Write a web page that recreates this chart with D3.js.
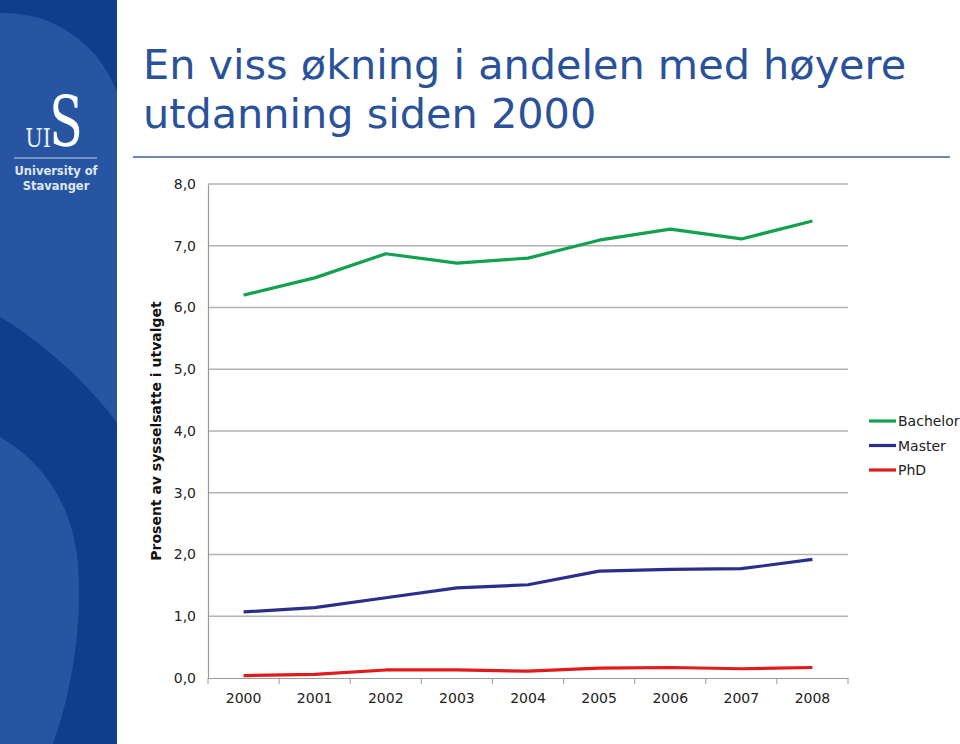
<!DOCTYPE html>
<html>
<head>
<meta charset="utf-8">
<script src="https://cdn.jsdelivr.net/npm/d3@7"></script>
<style>
  body { margin: 0; background: #fff; }
  svg { display: block; }
</style>
</head>
<body>
<div id="chart"></div>
<script>
// data
const years = ['2000', '2001', '2002', '2003', '2004', '2005', '2006', '2007', '2008'];
const bachelor = [6.20, 6.48, 6.87, 6.72, 6.80, 7.09, 7.27, 7.11, 7.40];
const master = [1.07, 1.14, 1.30, 1.46, 1.51, 1.73, 1.76, 1.77, 1.92];
const phd = [0.04, 0.06, 0.13, 0.13, 0.11, 0.16, 0.17, 0.15, 0.17];
const seriesNames = ['Bachelor', 'Master', 'PhD'];
const seriesColors = ['#12a14e', '#2b2f8c', '#e01b1b'];
const yTicks = [0, 1, 2, 3, 4, 5, 6, 7, 8];

var width = 960,
    height = 744;

var svg = d3.select('#chart')
  .append('svg')
    .attr('width', width)
    .attr('height', height);

// left sidebar with the logo
var side = svg.append('g');
side.append('rect')
  .attr('x', 0).attr('y', 0)
  .attr('width', 117).attr('height', height)
  .attr('fill', '#2855a2');
// darker curved bands
side.append('path')
  .attr('d', 'M0,0 L117,0 L117,92 C105,60 80,32 40,18 C25,14 10,13 0,13 Z')
  .attr('fill', '#0f3e8e');
side.append('path')
  .attr('d', 'M0,317 C40,340 90,385 117,423 L117,744 L53,744 C72,690 84,620 77,555 C70,500 40,460 0,437 Z')
  .attr('fill', '#0f3e8e');
// logo
side.append('text')
  .attr('transform', 'translate(66,146) scale(0.7,1)')
  .attr('text-anchor', 'middle')
  .attr('font-family', 'DejaVu Serif, serif')
  .attr('font-size', 70)
  .attr('fill', '#fff')
  .text('S');
side.append('text')
  .attr('transform', 'translate(51,147) scale(0.8,1)')
  .attr('text-anchor', 'end')
  .attr('font-family', 'DejaVu Serif, serif')
  .attr('font-size', 26)
  .attr('fill', '#e8eef8')
  .text('UI');
side.append('line')
  .attr('x1', 14).attr('x2', 97)
  .attr('y1', 158).attr('y2', 158)
  .attr('stroke', '#8fa8d4').attr('stroke-width', 1.5);
side.append('text')
  .attr('x', 56).attr('y', 175)
  .attr('text-anchor', 'middle')
  .attr('font-family', 'Verdana, DejaVu Sans, sans-serif')
  .attr('font-weight', 'bold')
  .attr('font-size', 11.5)
  .attr('fill', '#dfe7f5')
  .text('University of');
side.append('text')
  .attr('x', 56).attr('y', 190)
  .attr('text-anchor', 'middle')
  .attr('font-family', 'Verdana, DejaVu Sans, sans-serif')
  .attr('font-weight', 'bold')
  .attr('font-size', 11.5)
  .attr('fill', '#dfe7f5')
  .text('Stavanger');

// title
var title = svg.append('text')
  .attr('font-family', 'Verdana, DejaVu Sans, sans-serif')
  .attr('font-size', 41.4)
  .attr('fill', '#2a529a');
title.append('tspan').attr('x', 143).attr('y', 79).text('En viss økning i andelen med høyere');
title.append('tspan').attr('x', 143).attr('y', 128).text('utdanning siden 2000');

svg.append('line')
  .attr('x1', 133).attr('x2', 950)
  .attr('y1', 157).attr('y2', 157)
  .attr('stroke', '#7089b4').attr('stroke-width', 2);

// chart area
var plotLeft = 208, plotRight = 848, plotTop = 184, plotBottom = 678;

var x = d3.scaleBand()
  .domain(years)
  .range([plotLeft, plotRight]);

var y = d3.scaleLinear()
  .domain([0, 8])
  .range([plotBottom, plotTop]);

// gridlines
svg.append('g')
  .selectAll('line')
  .data(yTicks.filter(d => d > 0))
  .enter().append('line')
    .attr('x1', plotLeft).attr('x2', plotRight)
    .attr('y1', d => y(d)).attr('y2', d => y(d))
    .attr('stroke', '#b3b3b3')
    .attr('stroke-width', 1.5);

// y axis
var yAxis = svg.append('g')
  .attr('transform', 'translate(' + plotLeft + ',0)')
  .call(d3.axisLeft(y).tickValues(yTicks).tickSize(0).tickPadding(12)
    .tickFormat(d => d3.format('.1f')(d).replace('.', ',')));
yAxis.select('.domain').attr('stroke', '#9a9a9a').attr('stroke-width', 1.2);
yAxis.selectAll('text')
  .attr('font-family', 'Verdana, DejaVu Sans, sans-serif')
  .attr('font-size', 14)
  .attr('fill', '#222');

// x axis with ticks on the category boundaries
var xAxis = svg.append('g')
  .attr('transform', 'translate(0,' + plotBottom + ')')
  .call(d3.axisBottom(x).tickSize(0).tickPadding(15));
xAxis.select('.domain').attr('stroke', '#9a9a9a').attr('stroke-width', 1.2);
xAxis.selectAll('text')
  .attr('font-family', 'Verdana, DejaVu Sans, sans-serif')
  .attr('font-size', 14)
  .attr('fill', '#222');
xAxis.selectAll('.bound')
  .data(years.concat(['end']))
  .enter().append('line')
    .attr('class', 'bound')
    .attr('x1', (d, i) => plotLeft + i * x.step())
    .attr('x2', (d, i) => plotLeft + i * x.step())
    .attr('y1', 0).attr('y2', 6)
    .attr('stroke', '#9a9a9a');

// y axis title
svg.append('text')
  .attr('transform', 'translate(161,431) rotate(-90)')
  .attr('text-anchor', 'middle')
  .attr('font-family', 'Verdana, DejaVu Sans, sans-serif')
  .attr('font-weight', 'bold')
  .attr('font-size', 14)
  .attr('fill', '#111')
  .text('Prosent av sysselsatte i utvalget');

// lines
var allSeries = [bachelor, master, phd];
var line = d3.line()
  .x((d, i) => x(years[i]) + x.bandwidth() / 2)
  .y(d => y(d));

svg.append('g')
  .selectAll('path')
  .data(allSeries)
  .enter().append('path')
    .attr('d', line)
    .attr('fill', 'none')
    .attr('stroke', (d, i) => seriesColors[i])
    .attr('stroke-width', 3.2)
    .attr('stroke-linejoin', 'round');

// legend
var legend = svg.append('g')
  .selectAll('g')
  .data(seriesNames)
  .enter().append('g')
    .attr('transform', (d, i) => 'translate(869,' + (421 + i * 24.5) + ')');
legend.append('line')
  .attr('x1', 0).attr('x2', 27)
  .attr('stroke', (d, i) => seriesColors[i])
  .attr('stroke-width', 3.2);
legend.append('text')
  .attr('x', 29).attr('y', 5)
  .attr('font-family', 'Verdana, DejaVu Sans, sans-serif')
  .attr('font-size', 14)
  .attr('fill', '#222')
  .text(d => d);
</script>
</body>
</html>
